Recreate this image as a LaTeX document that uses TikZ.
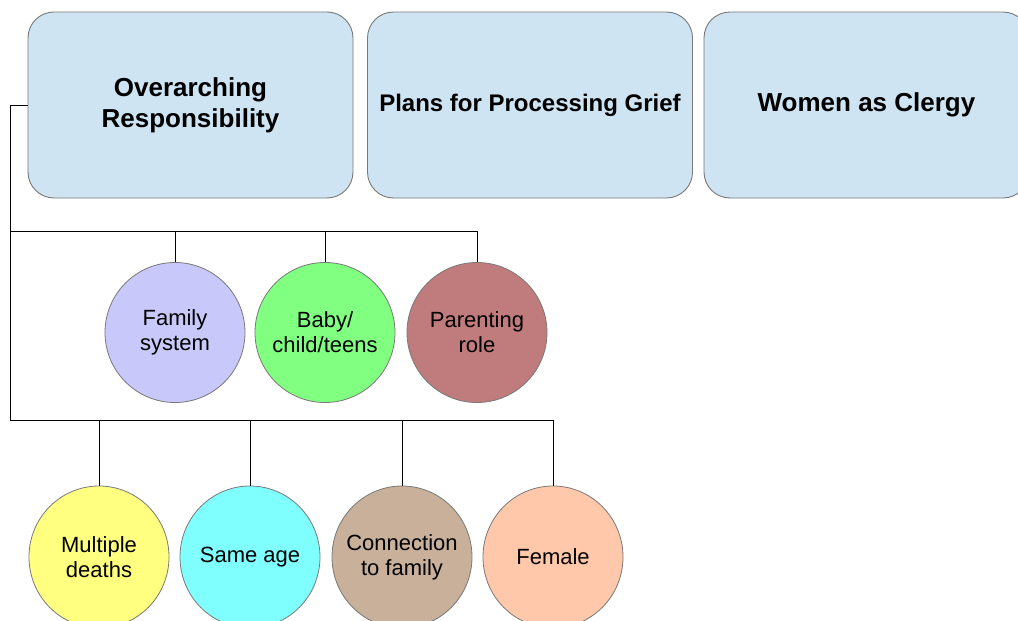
\documentclass[tikz,border=0pt]{standalone}
\usepackage{fontspec}
\setmainfont{Liberation Sans}
\usetikzlibrary{shapes.geometric}
\definecolor{boxfill}{RGB}{206,228,242}
\definecolor{edgegray}{RGB}{120,120,120}
\definecolor{cfam}{RGB}{200,200,250}
\definecolor{cbaby}{RGB}{128,255,128}
\definecolor{cpar}{RGB}{192,124,124}
\definecolor{cmult}{RGB}{255,255,128}
\definecolor{csame}{RGB}{128,255,255}
\definecolor{cconn}{RGB}{200,176,154}
\definecolor{cfem}{RGB}{255,200,170}
\newcommand{\zb}[1]{\makebox[0pt]{#1}}
\tikzset{
  topbox/.style={draw=edgegray, line width=0.9pt, fill=boxfill, rounded corners=26pt,
    minimum width=325pt, minimum height=186pt, inner sep=0pt,
    align=center, font=\fontsize{26}{31}\selectfont\bfseries},
  bubble/.style={draw=edgegray, line width=0.8pt, ellipse, minimum width=140pt, minimum height=140pt,
    inner sep=0pt, align=center, font=\fontsize{22}{25}\selectfont},
  link/.style={draw=black, line width=0.8pt}
}
\begin{document}
\begin{tikzpicture}[x=1pt,y=-1pt]
\useasboundingbox (0,0) rectangle (1018,621);
\fill[white] (0,0) rectangle (1018,621);
\node[topbox] (b1) at (190.5,105) {Overarching\\Responsibility};
\node[topbox, font=\fontsize{24}{30}\selectfont\bfseries] (b2) at (530,105) {Plans for Processing Grief};
\node[topbox] (b3) at (866.5,105) {Women as Clergy};

\node[bubble, fill=cfam] (c1) at (175,332.5) {\zb{Family}\\\zb{system}};
\node[bubble, fill=cbaby] (c2) at (325,332.5) {\zb{Baby/}\\\zb{child/teens}};
\node[bubble, fill=cpar] (c3) at (477,332.5) {\zb{Parenting}\\\zb{role}};

\node[bubble, fill=cmult, minimum height=142pt] (d1) at (99,557) {\zb{Multiple}\\\zb{deaths}};
\node[bubble, fill=csame, minimum height=142pt] (d2) at (250,557) {\zb{Same age}};
\node[bubble, fill=cconn, minimum height=142pt] (d3) at (402,557) {\zb{Connection}\\\zb{to family}};
\node[bubble, fill=cfem, minimum height=142pt] (d4) at (553,557) {\zb{Female}};

\coordinate (s0) at (10,105);
\coordinate (r1) at (10,231);
\coordinate (r2) at (10,420);
\draw[link] (b1.west) -- (s0) -- (r2);
\draw[link] (r1) -| (c3.north);
\draw[link] (c1.north) -- (c1.north |- r1);
\draw[link] (c2.north) -- (c2.north |- r1);
\draw[link] (r2) -| (d4.north);
\draw[link] (d1.north) -- (d1.north |- r2);
\draw[link] (d2.north) -- (d2.north |- r2);
\draw[link] (d3.north) -- (d3.north |- r2);
\end{tikzpicture}
\end{document}
